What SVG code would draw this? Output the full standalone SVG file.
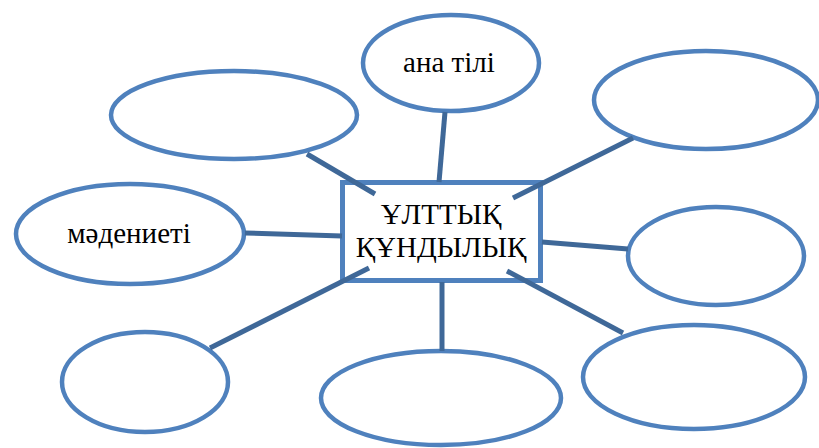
<svg xmlns="http://www.w3.org/2000/svg" width="819" height="448" viewBox="0 0 819 448">
<style>
.e{fill:#fff;stroke:#4F81BD;stroke-width:4.5}
.c line{stroke:#3F6898;stroke-width:5;stroke-linecap:butt}
.b{fill:#fff;stroke:#4F81BD;stroke-width:5}
.t{fill:#000;text-anchor:middle;font-family:"Liberation Serif","DejaVu Serif","Times New Roman",serif}
</style>
<rect width="819" height="448" fill="#fff"/>
<g id="n-tl"><ellipse class="e" cx="234" cy="115" rx="123" ry="44"/></g>
<g id="n-top"><ellipse class="e" cx="451" cy="63" rx="88" ry="48"/><text class="t" x="449" y="72" font-size="29">ана тілі</text></g>
<g id="n-tr"><ellipse class="e" cx="706" cy="100" rx="112" ry="49"/></g>
<g id="n-l"><ellipse class="e" cx="130" cy="234" rx="114" ry="50"/><text class="t" x="129" y="243" font-size="29">мәдениеті</text></g>
<g id="n-r"><ellipse class="e" cx="716" cy="256" rx="88" ry="49"/></g>
<g id="n-bl"><ellipse class="e" cx="145" cy="382" rx="83" ry="50"/></g>
<g id="n-b"><ellipse class="e" cx="441" cy="398" rx="120" ry="47"/></g>
<g id="n-br"><ellipse class="e" cx="694" cy="377" rx="111" ry="52"/></g>
<g id="center"><rect class="b" x="342.5" y="182.5" width="198" height="98"/><text class="t" x="441" y="224" font-size="29">ҰЛТТЫҚ</text><text class="t" x="441" y="257" font-size="29">ҚҰНДЫЛЫҚ</text></g>
<g class="c" id="connectors">
<line x1="445" y1="112" x2="439" y2="182"/>
<line x1="307" y1="154" x2="375" y2="194"/>
<line x1="633" y1="138" x2="513" y2="198"/>
<line x1="245" y1="233" x2="342" y2="236"/>
<line x1="542" y1="242" x2="628" y2="249"/>
<line x1="210" y1="348" x2="369" y2="268"/>
<line x1="442" y1="282" x2="442" y2="351"/>
<line x1="507" y1="271" x2="623" y2="333"/>
</g>
</svg>
